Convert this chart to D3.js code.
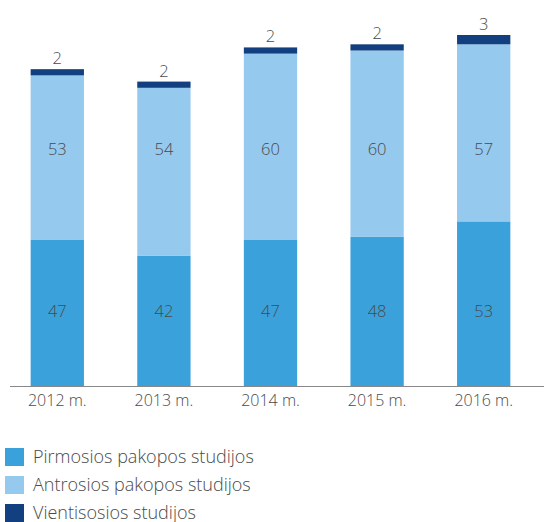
<!DOCTYPE html>
<html><head><meta charset="utf-8">
<script src="https://cdn.jsdelivr.net/npm/d3@7"></script>
<style>body{margin:0;background:#fff}svg{display:block}</style>
</head><body>
<svg id="c" width="544" height="522"></svg>
<script>
const categories = ["2012 m.", "2013 m.", "2014 m.", "2015 m.", "2016 m."];
const pirmosios = [47, 42, 47, 48, 53];
const antrosios = [53, 54, 60, 60, 57];
const vientisosios = [2, 2, 2, 2, 3];
const seriesNames = ["Pirmosios pakopos studijos", "Antrosios pakopos studijos", "Vientisosios studijos"];
const colors = ["#3ba1db", "#96c9ee", "#113f7f"];

const svg = d3.select("#c");
const font = "Open Sans, sans-serif";
const txt = "#4a4a4a";
const x = d3.scaleBand().domain(categories).range([4, 537]).paddingInner(0.5).paddingOuter(0.25);
const y = d3.scaleLinear().domain([0, 113]).range([386, 35]);

const rows = categories.map((c, i) => ({cat: c, v: [pirmosios[i], antrosios[i], vientisosios[i]]}));
const stack = d3.stack().keys([0,1,2]).value((d, k) => d.v[k]);
const layers = stack(rows);

layers.forEach((layer, k) => {
  svg.append("g").selectAll("rect").data(layer).join("rect")
    .attr("x", d => x(d.data.cat))
    .attr("width", x.bandwidth())
    .attr("y", d => y(d[1]))
    .attr("height", d => y(d[0]) - y(d[1]))
    .attr("fill", colors[k]);
});

// inner labels: aligned in one row per series (mean of segment midpoints)
[0,1].forEach(k => {
  const rowVal = d3.mean(layers[k], d => (d[0] + d[1]) / 2);
  svg.append("g").selectAll("text").data(layers[k]).join("text")
    .attr("x", d => x(d.data.cat) + x.bandwidth()/2)
    .attr("y", y(rowVal) - 1)
    .attr("dy", "0.35em")
    .attr("text-anchor", "middle")
    .attr("font-family", font).attr("font-weight", 300).attr("font-size", 16.5).attr("fill", txt)
    .text(d => d.data.v[k]);
});
// top labels
svg.append("g").selectAll("text").data(layers[2]).join("text")
  .attr("x", d => x(d.data.cat) + x.bandwidth()/2)
  .attr("y", d => y(d[1]) - 5)
  .attr("text-anchor", "middle")
  .attr("font-family", font).attr("font-weight", 300).attr("font-size", 16.5).attr("fill", txt)
  .text(d => d.data.v[2]);

// axis
const ax = svg.append("g").attr("transform", "translate(0,386)")
  .call(d3.axisBottom(x).tickSize(0).tickPadding(9));
ax.select(".domain").attr("stroke", "#888").attr("d", "M10,0.5H544");
ax.selectAll("text").attr("font-family", font).attr("font-weight", 300).attr("font-size", 16).attr("fill", txt);

// legend
const lg = svg.append("g").selectAll("g").data(seriesNames).join("g")
  .attr("transform", (d, i) => `translate(5,${448 + i*28})`);
lg.append("rect").attr("width", 19).attr("height", 18).attr("fill", (d, i) => colors[i]);
lg.append("text").attr("x", 28).attr("y", 9).attr("dy", "0.35em")
  .attr("font-family", font).attr("font-weight", 300).attr("font-size", 18).attr("fill", txt)
  .text(d => d);
</script>
</body></html>
